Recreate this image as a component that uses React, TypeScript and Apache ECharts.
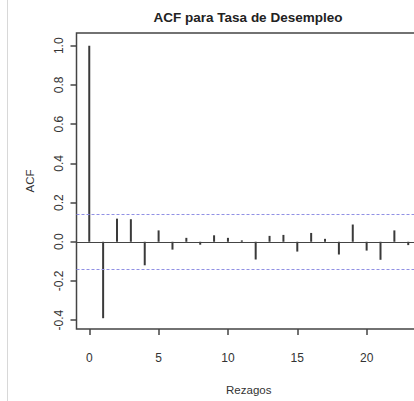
import React, { useEffect, useRef } from "react";
import * as echarts from "echarts";

// Autocorrelations of the unemployment rate, lags 0..23
const lags = [0, 1, 2, 3, 4, 5, 6, 7, 8, 9, 10, 11, 12, 13, 14, 15, 16, 17, 18, 19, 20, 21, 22, 23];
const acfValues = [
  1.0, -0.39, 0.118, 0.115, -0.12, 0.058, -0.04, 0.02, -0.015, 0.033, 0.02, 0.007,
  -0.09, 0.03, 0.035, -0.05, 0.045, 0.015, -0.065, 0.088, -0.045, -0.092, 0.058, -0.017,
];
// 95% confidence bound (±1.96/sqrt(n))
const confBound = 0.137;
const xTicks = [0, 5, 10, 15, 20];
const yTicks = [-0.4, -0.2, 0.0, 0.2, 0.4, 0.6, 0.8, 1.0];

const FONT = "'Liberation Sans', Arial, sans-serif";
const INK = "#333";
// The canvas is a little wider than the visible window, so the right edge of the frame falls outside it
const CANVAS_W = 440;

export default function App() {
  const ref = useRef<HTMLDivElement>(null);

  useEffect(() => {
    if (!ref.current) return;
    const chart = echarts.init(ref.current, undefined, { renderer: "svg" });
    const maxLag = lags[lags.length - 1];
    chart.setOption({
      animation: false,
      backgroundColor: "#fff",
      textStyle: { fontFamily: FONT },
      graphic: [
        {
          type: "line",
          shape: { x1: 7.5, y1: 0, x2: 7.5, y2: 401 },
          style: { stroke: "#d8d8d8", lineWidth: 1 },
        },
        {
          type: "text",
          x: 248,
          y: 17,
          style: {
            text: "ACF para Tasa de Desempleo",
            font: `bold 13.5px ${FONT}`,
            fill: "#222",
            textAlign: "center",
            textVerticalAlign: "middle",
          },
        },
      ],
      grid: {
        left: 76.5,
        top: 33,
        right: CANVAS_W - 421,
        bottom: 66,
        show: true,
        borderColor: "#444",
        borderWidth: 1.5,
        backgroundColor: "transparent",
      },
      xAxis: {
        type: "value",
        min: -0.04 * maxLag,
        max: 1.04 * maxLag,
        name: "Rezagos",
        nameLocation: "middle",
        nameGap: 55,
        nameTextStyle: { fontFamily: FONT, fontSize: 11.5, color: INK },
        axisLine: { show: false, onZero: false },
        splitLine: { show: false },
        axisTick: {
          show: true,
          length: 6,
          customValues: xTicks,
          lineStyle: { color: "#444", width: 1.5 },
        },
        axisLabel: {
          customValues: xTicks,
          margin: 23,
          fontFamily: FONT,
          fontSize: 12,
          color: INK,
          formatter: (v: number) => String(v),
        },
      },
      yAxis: {
        type: "value",
        min: -0.445,
        max: 1.065,
        name: "ACF",
        nameLocation: "middle",
        nameGap: 41,
        nameRotate: 90,
        nameTextStyle: { fontFamily: FONT, fontSize: 11.5, color: INK },
        axisLine: { show: false, onZero: false },
        splitLine: { show: false },
        axisTick: {
          show: true,
          length: 6,
          customValues: yTicks,
          lineStyle: { color: "#444", width: 1.5 },
        },
        axisLabel: {
          customValues: yTicks,
          rotate: 90,
          margin: 12,
          fontFamily: FONT,
          fontSize: 12,
          color: INK,
          formatter: (v: number) => v.toFixed(1),
        },
      },
      series: [
        {
          type: "bar",
          data: lags.map((l, i) => [l, acfValues[i]]),
          barWidth: 2,
          itemStyle: { color: "#3a3a3a" },
          silent: true,
          markLine: {
            silent: true,
            symbol: "none",
            label: { show: false },
            data: [
              { yAxis: 0, lineStyle: { color: "#444", width: 1.2, type: "solid" } },
              { yAxis: confBound, lineStyle: { color: "#9090e4", width: 1, type: [3, 2] } },
              { yAxis: -confBound, lineStyle: { color: "#9090e4", width: 1, type: [3, 2] } },
            ],
          },
        },
      ],
    });
    return () => chart.dispose();
  }, []);

  return (
    <div style={{ position: "fixed", left: 0, top: 0, width: 414, height: 401, overflow: "hidden", background: "#fff" }}>
      <div ref={ref} style={{ width: CANVAS_W, height: 401 }} />
    </div>
  );
}
